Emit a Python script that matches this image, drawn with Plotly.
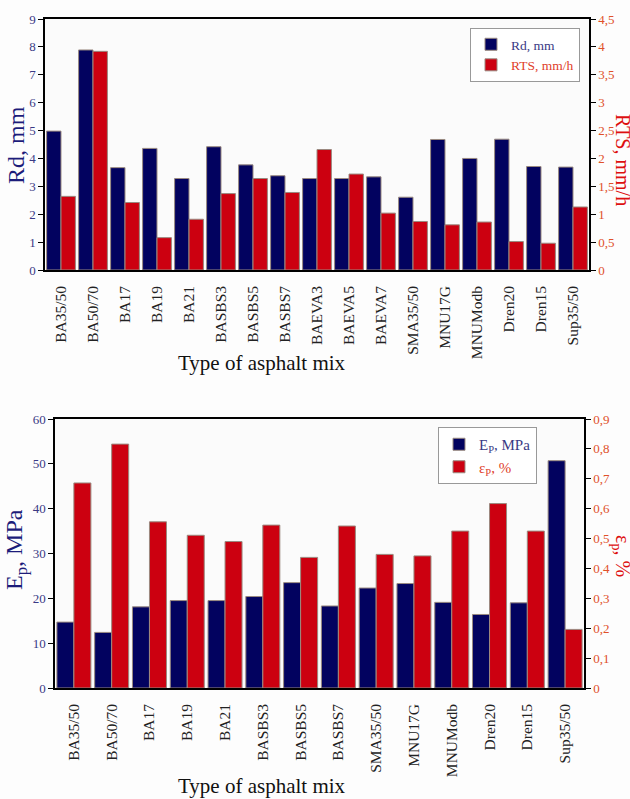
import plotly.graph_objects as go

mixes_top = ["BA35/50", "BA50/70", "BA17", "BA19", "BA21", "BASBS3", "BASBS5", "BASBS7",
             "BAEVA3", "BAEVA5", "BAEVA7", "SMA35/50", "MNU17G", "MNUModb", "Dren20", "Dren15", "Sup35/50"]
rd_mm = [4.98, 7.89, 3.67, 4.36, 3.28, 4.42, 3.77, 3.38, 3.28, 3.28, 3.34, 2.61, 4.68, 4.0, 4.69, 3.71, 3.69]
rts_mmh = [1.32, 3.92, 1.21, 0.58, 0.91, 1.37, 1.64, 1.39, 2.16, 1.72, 1.02, 0.87, 0.81, 0.86, 0.51, 0.48, 1.13]

mixes_bot = ["BA35/50", "BA50/70", "BA17", "BA19", "BA21", "BASBS3", "BASBS5", "BASBS7",
             "SMA35/50", "MNU17G", "MNUModb", "Dren20", "Dren15", "Sup35/50"]
ep_mpa = [14.7, 12.4, 18.1, 19.5, 19.5, 20.4, 23.5, 18.3, 22.3, 23.3, 19.1, 16.4, 19.0, 50.7]
eps_pct = [0.686, 0.816, 0.556, 0.511, 0.490, 0.545, 0.437, 0.542, 0.447, 0.442, 0.525, 0.617, 0.525, 0.196]

left_ticks_top = [0, 1, 2, 3, 4, 5, 6, 7, 8, 9]
right_ticks_top = [0, 0.5, 1, 1.5, 2, 2.5, 3, 3.5, 4, 4.5]
right_text_top = ["0", "0,5", "1", "1,5", "2", "2,5", "3", "3,5", "4", "4,5"]
left_ticks_bot = [0, 10, 20, 30, 40, 50, 60]
right_ticks_bot = [0, 0.1, 0.2, 0.3, 0.4, 0.5, 0.6, 0.7, 0.8, 0.9]
right_text_bot = ["0", "0,1", "0,2", "0,3", "0,4", "0,5", "0,6", "0,7", "0,8", "0,9"]

NAVY = "#02025f"
RED = "#cc0010"
NAVY_TXT = "#3a3a85"
RED_TXT = "#e0502a"
SERIF = "Liberation Serif, Times New Roman, serif"
EDGE = dict(color="#9a8a80", width=1)

W, H = 630, 799
def fx(px):
    return px / W
def fy(py):
    return 1 - py / H

fig = go.Figure()
fig.add_trace(go.Bar(x=mixes_top, y=rd_mm, name='<span style="color:#3a3a85">Rd, mm</span>',
                     marker=dict(color=NAVY, line=EDGE), xaxis="x", yaxis="y",
                     offsetgroup="a", legend="legend"))
fig.add_trace(go.Bar(x=mixes_top, y=rts_mmh, name='<span style="color:#e0402a">RTS, mm/h</span>',
                     marker=dict(color=RED, line=EDGE), xaxis="x", yaxis="y2",
                     offsetgroup="b", legend="legend"))
fig.add_trace(go.Bar(x=mixes_bot, y=ep_mpa, name='<span style="color:#3a3a85">E<sub>P</sub>, MPa</span>',
                     marker=dict(color=NAVY, line=EDGE), xaxis="x2", yaxis="y3",
                     offsetgroup="a", legend="legend2"))
fig.add_trace(go.Bar(x=mixes_bot, y=eps_pct, name='<span style="color:#e0402a">ε<sub>P</sub>, %</span>',
                     marker=dict(color=RED, line=EDGE), xaxis="x2", yaxis="y4",
                     offsetgroup="b", legend="legend2"))

xcommon = dict(type="category", showline=True, linecolor="black", linewidth=1.5, mirror=True,
               ticks="", tickangle=-90, tickfont=dict(family=SERIF, size=15.5, color="#222222"),
               ticklabelstandoff=8,
               showgrid=False, zeroline=False, automargin=False)
ycommon = dict(showline=True, linecolor="black", linewidth=1.5, ticks="outside", ticklen=5,
               tickcolor="black", showgrid=False, zeroline=False, automargin=False)

fig.update_layout(
    width=W, height=H,
    margin=dict(l=0, r=0, t=0, b=0),
    paper_bgcolor="#fdfdfd", plot_bgcolor="#fbfbfb",
    barmode="group", bargap=0.1, bargroupgap=0,
    font=dict(family=SERIF),
    xaxis=dict(domain=[fx(45), fx(589)], anchor="y", **xcommon),
    yaxis=dict(domain=[fy(270), fy(19)], anchor="x", range=[0, 9], tickvals=left_ticks_top,
               tickfont=dict(family=SERIF, size=13, color=NAVY_TXT), **ycommon),
    yaxis2=dict(overlaying="y", side="right", anchor="x", range=[0, 4.5], tickvals=right_ticks_top,
                ticktext=right_text_top, tickfont=dict(family=SERIF, size=13, color=RED_TXT), **ycommon),
    xaxis2=dict(domain=[fx(55), fx(584)], anchor="y3", **xcommon),
    yaxis3=dict(domain=[fy(688), fy(419)], anchor="x2", range=[0, 60], tickvals=left_ticks_bot,
                tickfont=dict(family=SERIF, size=13, color=NAVY_TXT), **ycommon),
    yaxis4=dict(overlaying="y3", side="right", anchor="x2", range=[0, 0.9], tickvals=right_ticks_bot,
                ticktext=right_text_bot, tickfont=dict(family=SERIF, size=13, color=RED_TXT), **ycommon),
    legend=dict(x=fx(580), y=fy(28), xanchor="right", yanchor="top", bgcolor="white",
                bordercolor="#999999", borderwidth=1, font=dict(family=SERIF, size=13.5),
                tracegroupgap=0, itemwidth=30),
    legend2=dict(x=fx(537), y=fy(427), xanchor="right", yanchor="top", bgcolor="white",
                 bordercolor="#999999", borderwidth=1, font=dict(family=SERIF, size=15),
                 tracegroupgap=0, itemwidth=30),
    showlegend=True,
)

ann = [
    dict(text="Rd, mm", x=fx(16), y=fy(145), textangle=-90, font=dict(size=24, color="#1c1c7a")),
    dict(text="RTS, mm/h", x=fx(623), y=fy(160), textangle=90, font=dict(size=20, color="#dd1010")),
    dict(text="Type of asphalt mix", x=fx(262), y=fy(363), textangle=0, font=dict(size=21, color="#111111")),
    dict(text="E<sub>p</sub>, MPa", x=fx(16), y=fy(550), textangle=-90, font=dict(size=24, color="#1c1c7a")),
    dict(text="ε<sub>p</sub>, %", x=fx(622), y=fy(556), textangle=90, font=dict(size=20, color="#dd1010")),
    dict(text="Type of asphalt mix", x=fx(262), y=fy(786), textangle=0, font=dict(size=21, color="#111111")),
]
for a in ann:
    fig.add_annotation(xref="paper", yref="paper", showarrow=False, xanchor="center", yanchor="middle",
                       font_family=SERIF, **{k: v for k, v in a.items()})

fig.write_html("out.html", config={"displayModeBar": False},
               post_script="document.body.style.margin='0';document.body.style.overflow='hidden';")
